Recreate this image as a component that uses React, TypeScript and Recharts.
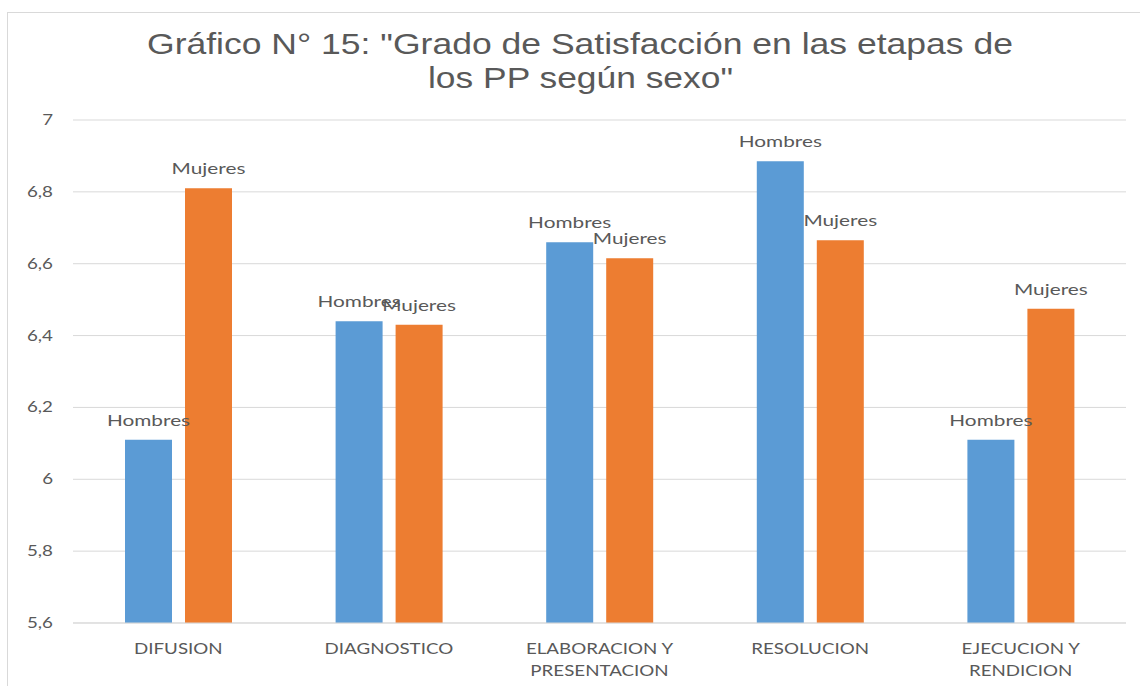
import React from 'react';
import { BarChart, Bar, XAxis, YAxis, CartesianGrid, LabelList } from 'recharts';

const categories = ['DIFUSION', 'DIAGNOSTICO', 'ELABORACION Y\nPRESENTACION', 'RESOLUCION', 'EJECUCION Y\nRENDICION'];
const hombres = [6.11, 6.44, 6.66, 6.885, 6.11];
const mujeres = [6.81, 6.43, 6.615, 6.665, 6.475];
const yTicks = [5.6, 5.8, 6, 6.2, 6.4, 6.6, 6.8, 7];
const titleLines = ['Gráfico N° 15: "Grado de Satisfacción en las etapas de', 'los PP según sexo"'];

const data = categories.map((c, i) => ({ name: c, Hombres: hombres[i], Mujeres: mujeres[i] }));

const TXT = '#595959';
const FONT = 'Lato, "Open Sans", sans-serif';
const STRETCH = 1.3;

// texto ensanchado horizontalmente, como en la imagen original
const WideText = ({ x, y, text, size = 16, k = STRETCH, anchor = 'middle' }: any) => (
  <text
    transform={`translate(${x},${y}) scale(${k},1)`}
    textAnchor={anchor}
    fontSize={size}
    fontFamily={FONT}
    fill={TXT}
  >
    {text}
  </text>
);

const fmt = (v: number) => {
  const r = Math.round(v * 10) / 10;
  return Number.isInteger(r) ? String(r) : r.toFixed(1).replace('.', ',');
};

const YTick = ({ x, y, payload }: any) => (
  <WideText x={x} y={y + 5} text={fmt(payload.value)} size={15} k={1.25} anchor="end" />
);

const XTick = ({ x, y, payload }: any) => {
  const lines = String(payload.value).split('\n');
  return (
    <g>
      {lines.map((l, i) => (
        <WideText key={i} x={x} y={y + 23 + i * 22} text={l} size={15} k={1.25} />
      ))}
    </g>
  );
};

const seriesLabel = (name: string) => (p: any) => (
  <WideText x={p.x + p.width / 2} y={p.y - 14} text={name} size={16} />
);

export default function App() {
  return (
    <div style={{ position: 'fixed', left: 0, top: 0, width: 1140, height: 686, overflow: 'hidden', background: '#fff' }}>
      <div style={{ position: 'absolute', left: 7, top: 12, width: 1144, height: 688, border: '1px solid #d9d9d9' }}>
        <BarChart
          width={1144}
          height={688}
          data={data}
          margin={{ top: 107, right: 26, left: 20, bottom: 18 }}
          barSize={47}
          barGap={13}
        >
          <CartesianGrid vertical={false} stroke="#d9d9d9" />
          <XAxis
            dataKey="name"
            axisLine={{ stroke: '#d9d9d9' }}
            tickLine={false}
            height={60}
            interval={0}
            tick={<XTick />}
          />
          <YAxis
            domain={[5.6, 7]}
            ticks={yTicks}
            width={45}
            axisLine={false}
            tickLine={false}
            tickMargin={14}
            tick={<YTick />}
            allowDataOverflow
          />
          <Bar dataKey="Hombres" fill="#5B9BD5" isAnimationActive={false}>
            <LabelList dataKey="Hombres" content={seriesLabel('Hombres')} />
          </Bar>
          <Bar dataKey="Mujeres" fill="#ED7D31" isAnimationActive={false}>
            <LabelList dataKey="Mujeres" content={seriesLabel('Mujeres')} />
          </Bar>
        </BarChart>
      </div>
      <svg style={{ position: 'absolute', left: 0, top: 0 }} width={1140} height={110}>
        <text x={580} y={54} textAnchor="middle" fontSize={29} fontFamily='"Liberation Sans", Arial, sans-serif' fill={TXT} textLength={866} lengthAdjust="spacingAndGlyphs">
          {titleLines[0]}
        </text>
        <text x={580.5} y={88} textAnchor="middle" fontSize={29} fontFamily='"Liberation Sans", Arial, sans-serif' fill={TXT} textLength={305} lengthAdjust="spacingAndGlyphs">
          {titleLines[1]}
        </text>
      </svg>
    </div>
  );
}
